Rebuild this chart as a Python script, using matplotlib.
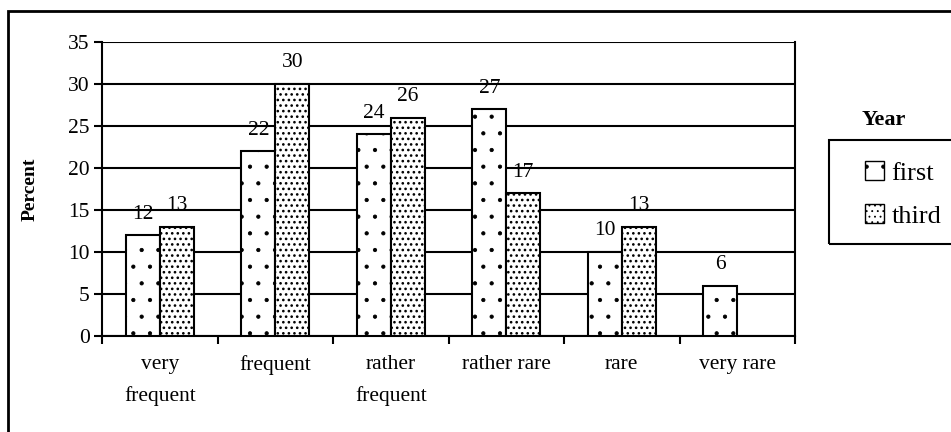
import numpy as np
import matplotlib.pyplot as plt
from matplotlib.patches import Rectangle, Patch

plt.rcParams['font.family'] = ['Liberation Serif', 'DejaVu Serif']
plt.rcParams['hatch.linewidth'] = 0.6

categories = ['very\nfrequent', 'frequent', 'rather\nfrequent', 'rather rare', 'rare', 'very rare']
first = [12, 22, 24, 27, 10, 6]
third = [13, 30, 26, 17, 13, 0]
yticks = [0, 5, 10, 15, 20, 25, 30, 35]

fig = plt.figure(figsize=(9.51, 4.32), dpi=100)
ax = fig.add_axes([102/951, 1-336/432, (795-102)/951, (336-42)/432])

x = np.arange(len(categories))
w = 0.294
b1 = ax.bar(x - w/2, first, w, color='white', edgecolor='black', hatch='.', linewidth=1.5, zorder=3)
b2 = ax.bar(x + w/2, third, w, color='white', edgecolor='black', hatch='...', linewidth=1.5, zorder=3)
for i in range(len(categories)):
    if third[i] == 0:
        b2[i].set_visible(False)
    try:
        b2[i].set_hatch_linewidth(1.1)
    except AttributeError:
        pass

for bars, vals in [(b1, first), (b2, third)]:
    for bar, v in zip(bars, vals):
        if v == 0:
            continue
        ax.annotate(str(v), (bar.get_x() + bar.get_width()/2, v), xytext=(0, 12),
                    textcoords='offset points', ha='center', va='baseline', fontsize=15.5)

ax.set_ylim(0, 35)
ax.set_xlim(-0.5, len(categories) - 0.5)
ax.set_yticks(yticks)
ax.yaxis.grid(True, color='black', linewidth=1.5, zorder=0)
ax.set_axisbelow(True)
ax.set_xticks(np.arange(len(categories) + 1) - 0.5, minor=False)
ax.set_xticklabels([])
ax.set_xticks(x, minor=True)
ax.set_xticklabels(categories, minor=True, fontsize=15.5, linespacing=1.75)
ax.tick_params(axis='x', which='minor', length=0, pad=14)
ax.tick_params(axis='x', which='major', length=6, width=1.5)
ax.tick_params(axis='y', length=6, width=1.5, labelsize=15.5, pad=3)
for s in ax.spines.values():
    s.set_linewidth(1.5)
ax.spines['top'].set_visible(False)
ax.set_ylabel('Percent', fontweight='bold', fontsize=14, labelpad=21)

# legend
fig.text(884/951, 1-120/432, 'Year', fontweight='bold', fontsize=16, ha='center', va='center')
fig.add_artist(Rectangle((829/951, 1-244/432), 0.2, (244-140)/432, transform=fig.transFigure,
                         fill=False, edgecolor='black', linewidth=1.5))
h1 = Patch(facecolor='white', edgecolor='black', hatch='.')
h2 = Patch(facecolor='white', edgecolor='black', hatch='...')
try:
    h2.set_hatch_linewidth(1.1)
except AttributeError:
    pass
fig.legend([h1, h2], ['first', 'third'], loc='upper left', bbox_to_anchor=(852/951, 1-148/432),
           frameon=False, fontsize=19, handlelength=0.7, handleheight=0.7, handletextpad=0.3,
           labelspacing=0.75, borderpad=0)

# outer border
fig.add_artist(Rectangle((8/951, -0.1), 1.1, 1.1 - 11/432, transform=fig.transFigure,
                         fill=False, edgecolor='black', linewidth=2))

fig.savefig('out.png', dpi=100)
